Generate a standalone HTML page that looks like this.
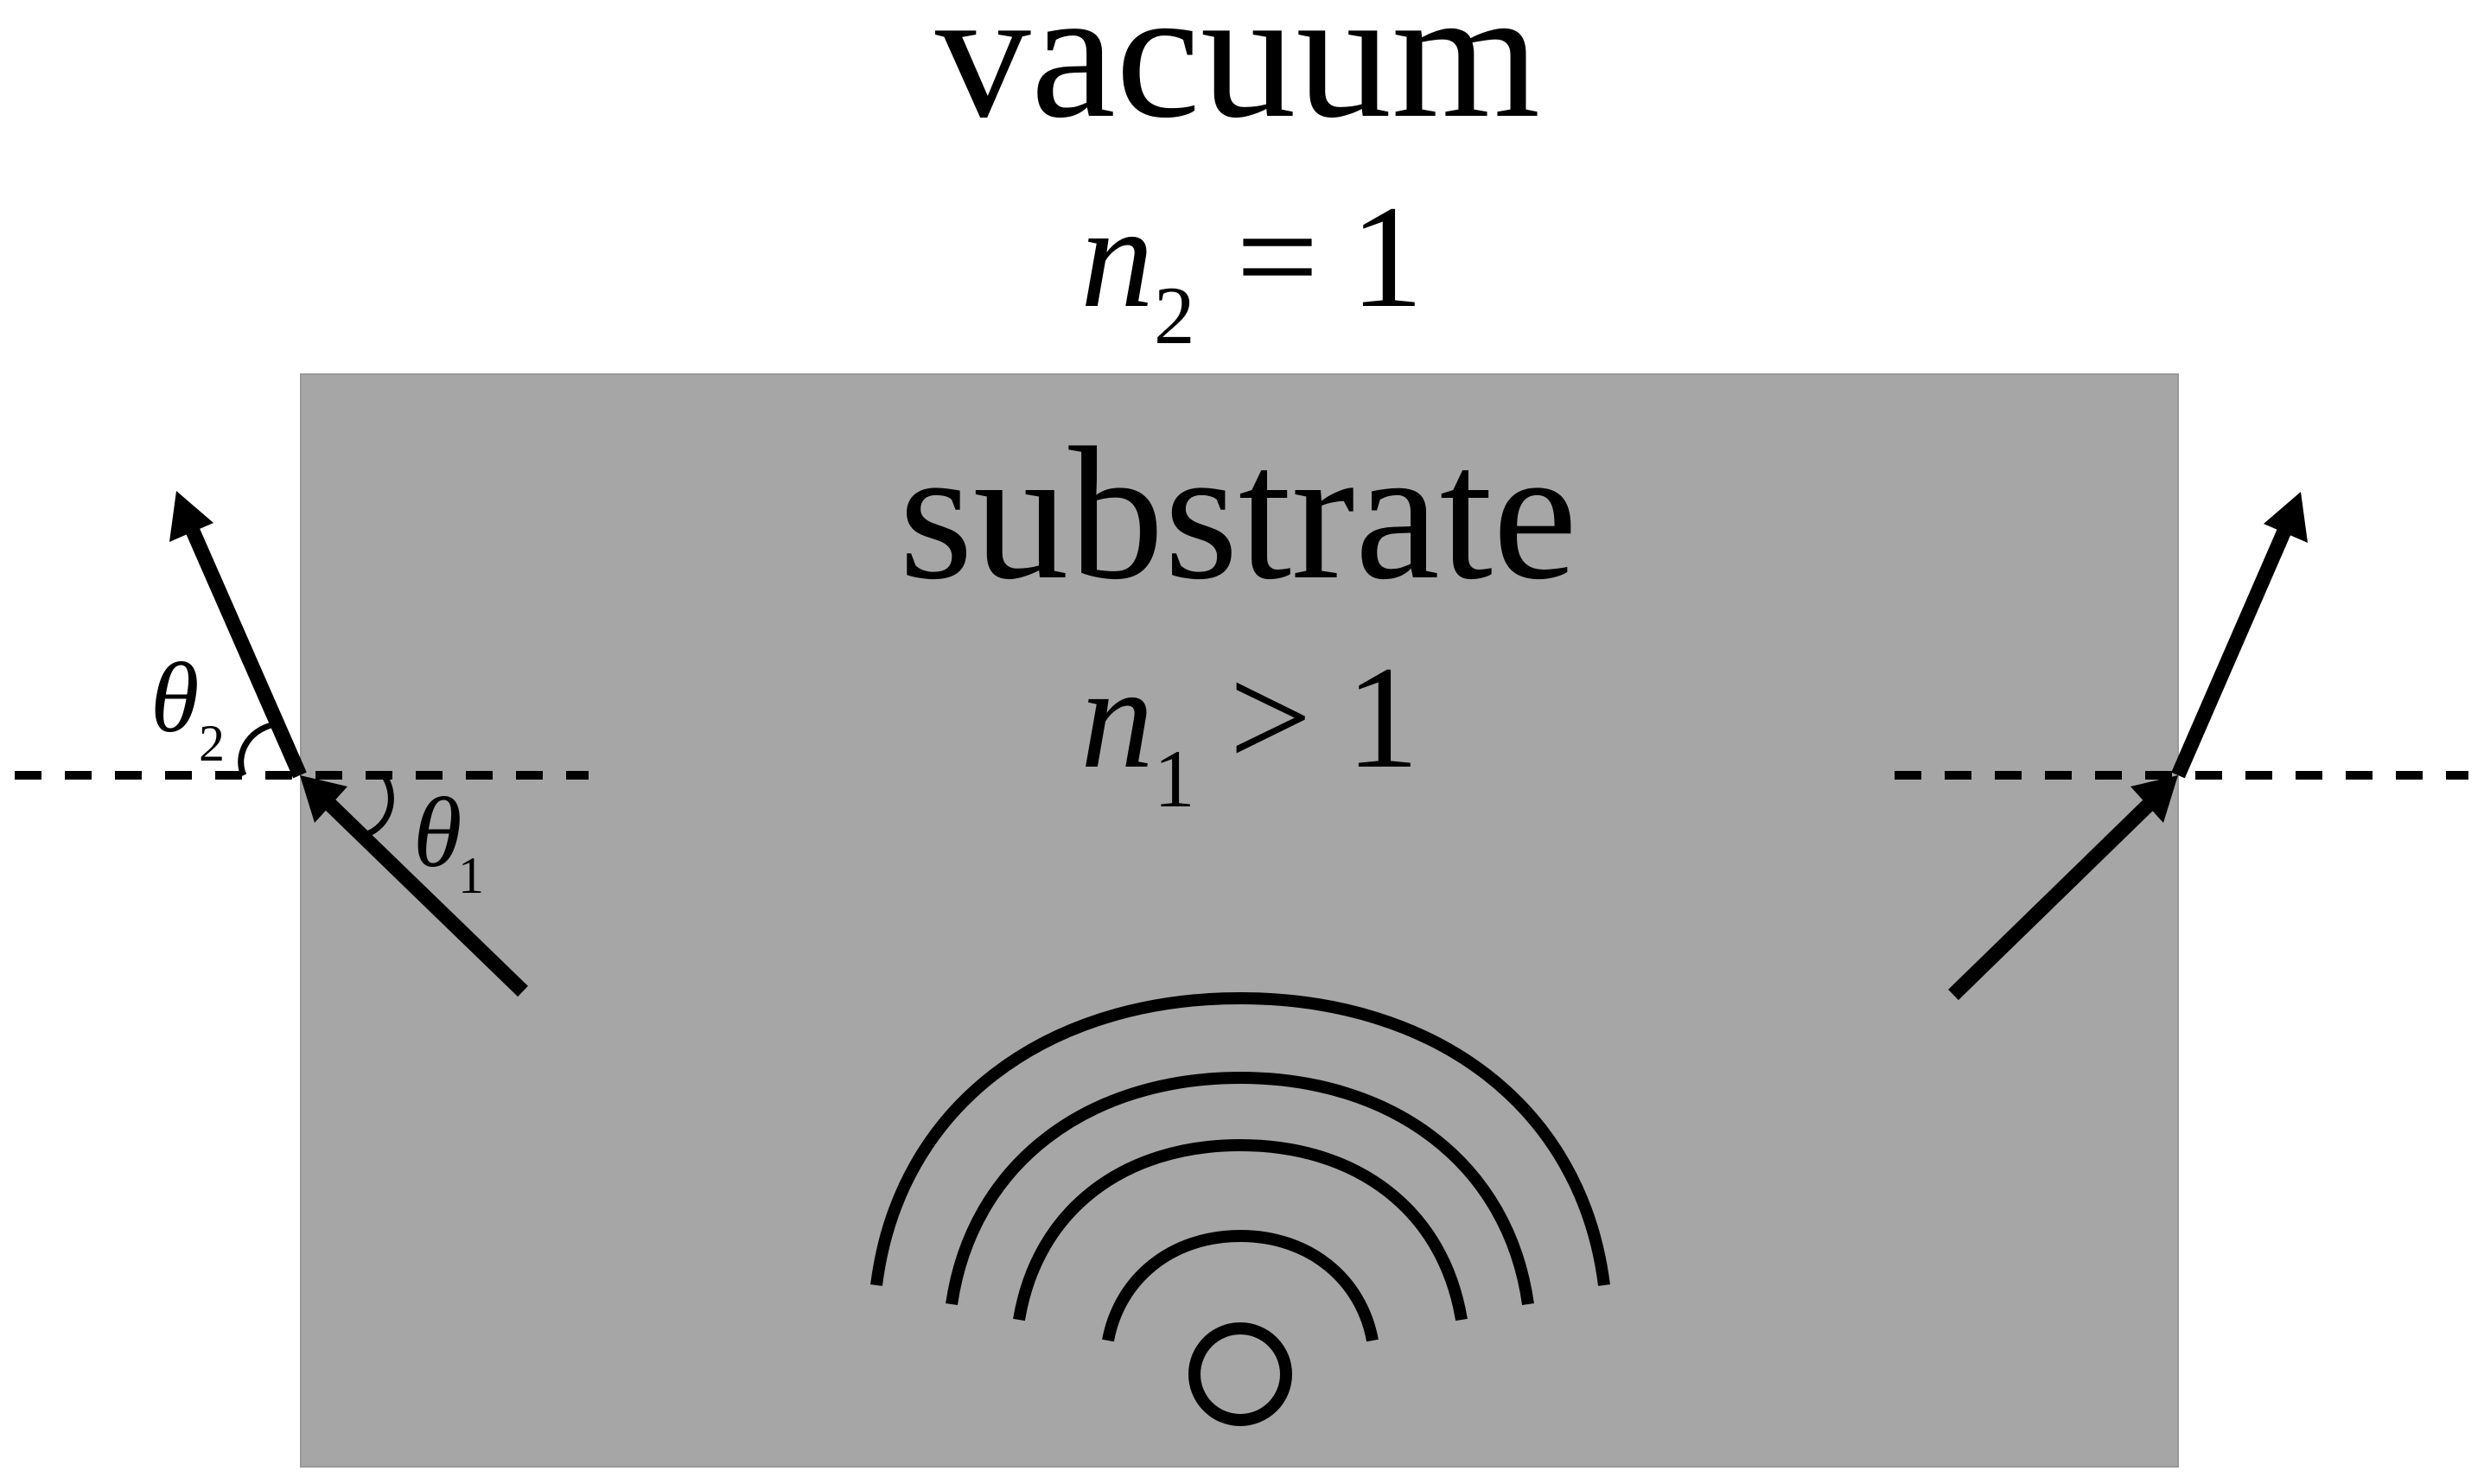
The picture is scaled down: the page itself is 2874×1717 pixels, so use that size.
<!DOCTYPE html>
<html><head><meta charset="utf-8"><style>
html,body{margin:0;padding:0;background:#fff;}
svg{display:block;}
</style></head><body>
<svg width="2874" height="1717" viewBox="0 0 2874 1717" xmlns="http://www.w3.org/2000/svg" font-family="Liberation Serif, serif">
<rect x="348" y="433" width="2172" height="1264" fill="#a6a6a6" stroke="#999" stroke-width="2"/>
<text x="1082" y="134" font-family="Liberation Serif" font-size="215" textLength="700" lengthAdjust="spacingAndGlyphs">vacuum</text>
<text x="1040" y="668" font-family="Liberation Serif" font-size="220" textLength="785" lengthAdjust="spacingAndGlyphs">substrate</text>
<g font-family="Liberation Serif">
<text x="1250" y="354" font-size="170" font-style="italic">n</text>
<text x="1335" y="397" font-size="95">2</text>
<text x="1430" y="354" font-size="170">=</text>
<text x="1562" y="354" font-size="170">1</text>
<text x="1250" y="887" font-size="170" font-style="italic">n</text>
<text x="1335" y="933" font-size="95">1</text>
<text x="1422" y="887" font-size="170">&gt;</text>
<text x="1557" y="887" font-size="170">1</text>
<text x="174" y="846" font-size="115" font-style="italic">θ</text>
<text x="230" y="880" font-size="60">2</text>
<text x="478" y="1002" font-size="115" font-style="italic">θ</text>
<text x="530" y="1033" font-size="60">1</text>
</g>
<g stroke="#000" stroke-width="10" stroke-dasharray="31 27" fill="none">
<line x1="17" y1="897" x2="681" y2="897"/>
<line x1="2192" y1="897" x2="2856" y2="897"/>
</g>
<g stroke="#000" stroke-width="17" fill="none">
<line x1="605" y1="1147" x2="380" y2="929"/>
<line x1="347" y1="897" x2="222" y2="612"/>
<line x1="2260" y1="1151" x2="2488" y2="929"/>
<line x1="2520" y1="897" x2="2644" y2="612"/>
</g>
<g fill="#000">
<polygon points="347,897 402,910 364,952"/>
<polygon points="204,568 247,605 196,627"/>
<polygon points="2520,897 2465,910 2503,952"/>
<polygon points="2662,569 2619,606 2670,628"/>
</g>
<g stroke="#000" stroke-width="7" fill="none">
<path d="M282 897 C272 875 285 845 318 838"/>
<path d="M446 900 C460 925 450 955 425 965"/>
</g>
<g stroke="#000" stroke-width="14" fill="none">
<path d="M1014 1487 C1040 1280 1210 1155 1435 1155 C1660 1155 1830 1280 1856 1487"/>
<path d="M1101 1509 C1125 1345 1260 1247 1435 1247 C1610 1247 1745 1345 1768 1509"/>
<path d="M1179 1527 C1200 1400 1300 1325 1435 1325 C1570 1325 1670 1400 1691 1527"/>
<path d="M1282 1551 C1295 1480 1355 1430 1435 1430 C1515 1430 1575 1480 1588 1551"/>
<ellipse cx="1435" cy="1590" rx="53" ry="53" stroke-width="14"/>
</g>
</svg>
</body></html>
